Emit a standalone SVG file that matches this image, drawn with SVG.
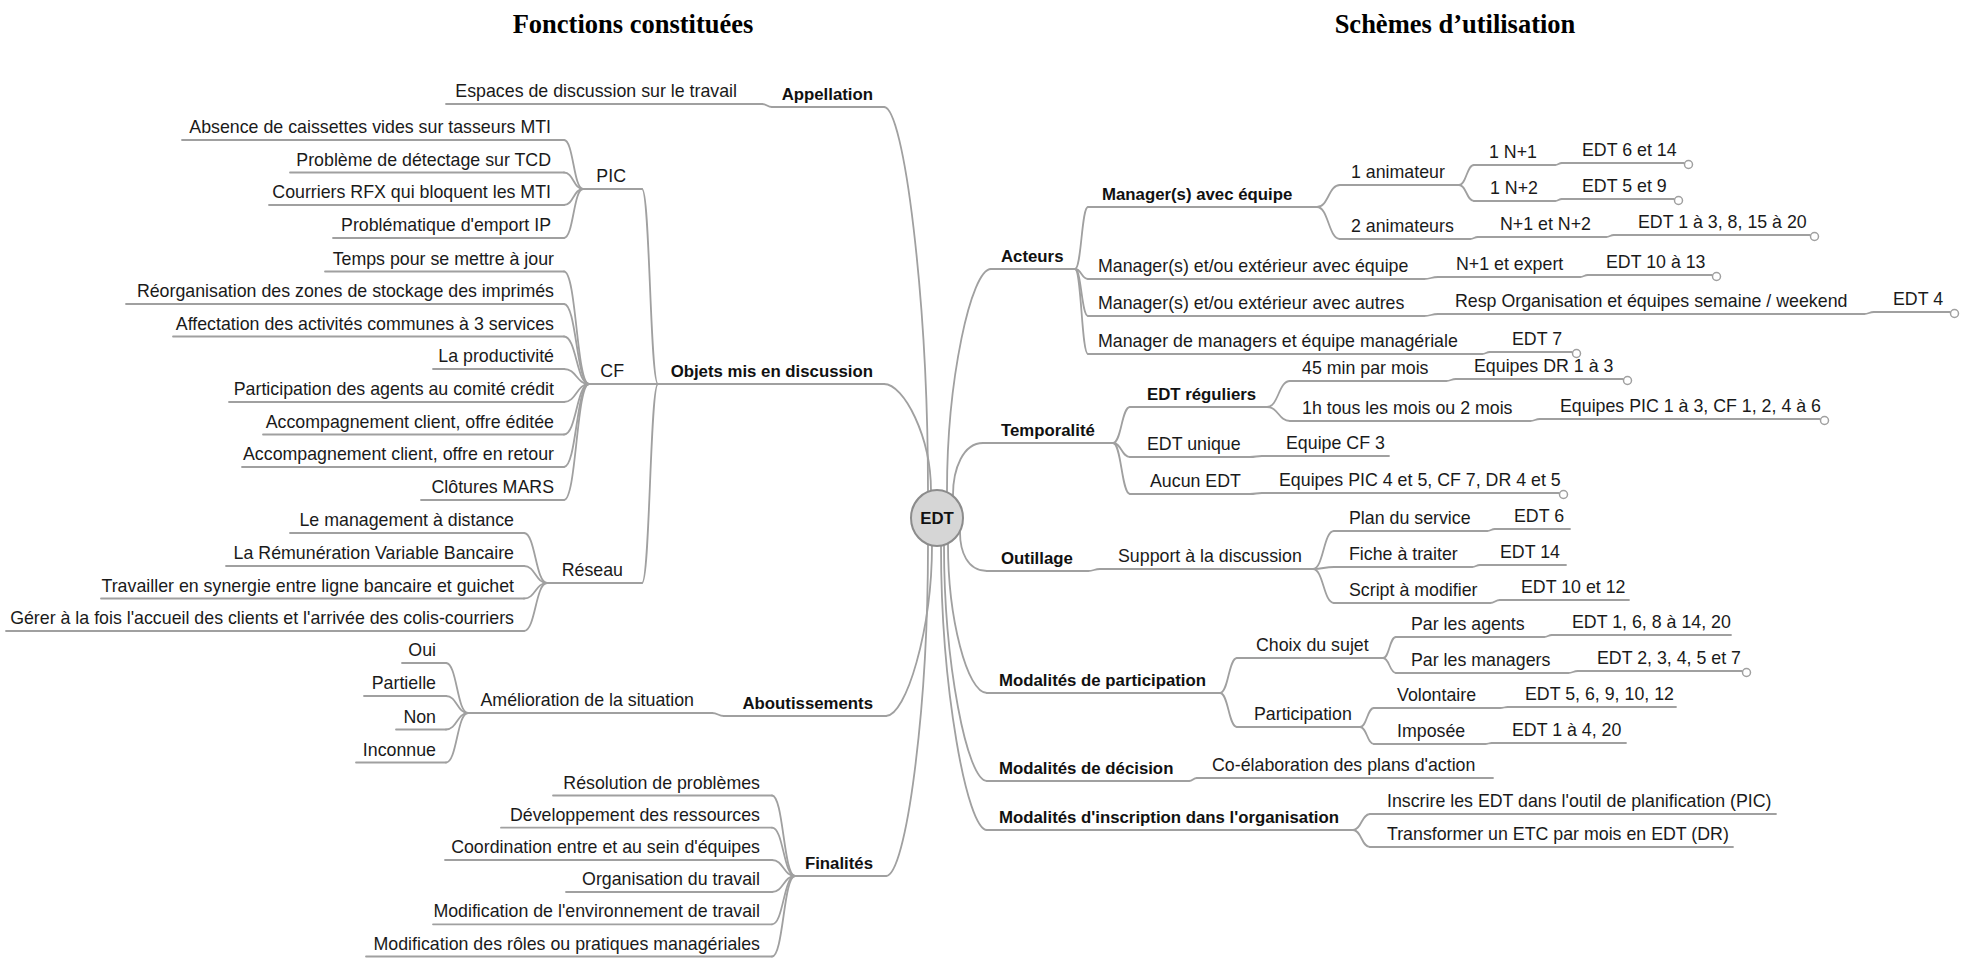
<svg xmlns="http://www.w3.org/2000/svg" width="1966" height="958" viewBox="0 0 1966 958">
<style>
.t{font-family:"Liberation Sans",Arial,sans-serif;font-size:17.8px;fill:#1a1a1a}
.b{font-family:"Liberation Sans",Arial,sans-serif;font-size:16.8px;font-weight:bold;fill:#111}
.e{text-anchor:end}
.l{stroke:#a0a0a0;stroke-width:1.8;fill:none;stroke-linecap:round}
.c{fill:#fff;stroke:#a0a0a0;stroke-width:1.5}
.title{font-family:"Liberation Serif","Times New Roman",serif;font-size:26.5px;font-weight:bold;text-anchor:middle;fill:#000}
</style>
<rect width="1966" height="958" fill="#fff"/>
<text class="title" x="633" y="33">Fonctions constituées</text>
<text class="title" x="1455" y="33">Schèmes d’utilisation</text>

<g id="connectors" class="l">
<!-- main -->
<path d="M884 107C904 107 928 300 928 492"/>
<path d="M884 384C904 384 931 437 931 491"/>
<path d="M886 716C906 716 932 630 932 545"/>
<path d="M886 876C906 876 928 710 928 545"/>
<path d="M991 269C971 269 947 380 947 491"/>
<path d="M983 443C963 443 953 469 953 495"/>
<path d="M987 571C967 571 960 551 960 532"/>
<path d="M987 693C967 693 948 618 948 544"/>
<path d="M987 781C967 781 944 663 944 545"/>
<path d="M987 830C967 830 941 688 941 546"/>
<!-- left -->
<path d="M762 104C767 104 767 107 772 107"/>
<path d="M642 189C650 189 650 384 658 384"/>
<path d="M644 384H658"/>
<path d="M642 583C650 583 650 384 658 384"/>
<path d="M564 140C573.5 140 573.5 189 583 189"/>
<path d="M564 172.5C573.5 172.5 573.5 189 583 189"/>
<path d="M564 205C573.5 205 573.5 189 583 189"/>
<path d="M564 238C573.5 238 573.5 189 583 189"/>
<path d="M564 271.5C576.5 271.5 576.5 384 589 384"/>
<path d="M564 304C576.5 304 576.5 384 589 384"/>
<path d="M564 336.5C576.5 336.5 576.5 384 589 384"/>
<path d="M564 369C576.5 369 576.5 384 589 384"/>
<path d="M564 402C576.5 402 576.5 384 589 384"/>
<path d="M564 434.5C576.5 434.5 576.5 384 589 384"/>
<path d="M564 467C576.5 467 576.5 384 589 384"/>
<path d="M564 500C576.5 500 576.5 384 589 384"/>
<path d="M524 533C535.5 533 535.5 583 547 583"/>
<path d="M524 566C535.5 566 535.5 583 547 583"/>
<path d="M524 598.5C535.5 598.5 535.5 583 547 583"/>
<path d="M524 631C535.5 631 535.5 583 547 583"/>
<path d="M712 713C718 713 718 716 724 716"/>
<path d="M446 663C457 663 457 713 468 713"/>
<path d="M446 696C457 696 457 713 468 713"/>
<path d="M446 729.5C457 729.5 457 713 468 713"/>
<path d="M446 762.5C457 762.5 457 713 468 713"/>
<path d="M772 795.5C783.5 795.5 783.5 876 795 876"/>
<path d="M772 827.7C783.5 827.7 783.5 876 795 876"/>
<path d="M772 860C783.5 860 783.5 876 795 876"/>
<path d="M772 892C783.5 892 783.5 876 795 876"/>
<path d="M772 924.3C783.5 924.3 783.5 876 795 876"/>
<path d="M772 956.5C783.5 956.5 783.5 876 795 876"/>
<!-- right: Acteurs -->
<path d="M1075 269C1081.5 269 1081.5 207 1088 207"/>
<path d="M1075 269C1081.5 269 1081.5 279 1088 279"/>
<path d="M1075 269C1081.5 269 1081.5 316 1088 316"/>
<path d="M1075 269C1081.5 269 1081.5 354 1088 354"/>
<path d="M1317 207C1328.5 207 1328.5 185 1340 185"/>
<path d="M1317 207C1328.5 207 1328.5 239 1340 239"/>
<path d="M1459 185C1466.5 185 1466.5 165 1474 165"/>
<path d="M1459 185C1466.5 185 1466.5 201 1474 201"/>
<path d="M1555 165C1558.5 165 1558.5 163 1562 163"/>
<path d="M1555 201C1558.5 201 1558.5 199 1562 199"/>
<path d="M1470 239C1474 239 1474 237 1478 237"/>
<path d="M1606 237C1610 237 1610 235 1614 235"/>
<path d="M1424 279C1431 279 1431 277 1438 277"/>
<path d="M1580 277C1584 277 1584 275 1588 275"/>
<path d="M1424 316C1431 316 1431 314 1438 314"/>
<path d="M1864 314C1869 314 1869 312 1874 312"/>
<path d="M1482 354C1486 354 1486 352 1490 352"/>
<!-- Temporalité -->
<path d="M1113 443C1121.5 443 1121.5 407 1130 407"/>
<path d="M1113 443C1121.5 443 1121.5 457 1130 457"/>
<path d="M1113 443C1121.5 443 1121.5 494 1130 494"/>
<path d="M1267 407C1278.5 407 1278.5 381 1290 381"/>
<path d="M1267 407C1278.5 407 1278.5 421 1290 421"/>
<path d="M1446 381C1451 381 1451 379 1456 379"/>
<path d="M1530 421C1535 421 1535 419 1540 419"/>
<path d="M1250 457C1256 457 1256 456 1262 456"/>
<path d="M1250 494C1256 494 1256 493 1262 493"/>
<!-- Outillage -->
<path d="M1088 571C1094 571 1094 569 1100 569"/>
<path d="M1313 569C1323.5 569 1323.5 531 1334 531"/>
<path d="M1313 569C1323.5 569 1323.5 567 1334 567"/>
<path d="M1313 569C1323.5 569 1323.5 603 1334 603"/>
<path d="M1487 531C1491 531 1491 529 1495 529"/>
<path d="M1472 567C1476 567 1476 565 1480 565"/>
<path d="M1490 603C1495 603 1495 600 1500 600"/>
<!-- Modalités de participation -->
<path d="M1220 693C1228.5 693 1228.5 658 1237 658"/>
<path d="M1220 693C1228.5 693 1228.5 727 1237 727"/>
<path d="M1383 658C1389.5 658 1389.5 637 1396 637"/>
<path d="M1383 658C1389.5 658 1389.5 673 1396 673"/>
<path d="M1544 637C1548 637 1548 635 1552 635"/>
<path d="M1568 673C1573 673 1573 671 1578 671"/>
<path d="M1360 727C1367 727 1367 708 1374 708"/>
<path d="M1360 727C1367 727 1367 744 1374 744"/>
<path d="M1500 708C1504 708 1504 707 1508 707"/>
<path d="M1485 744C1488.5 744 1488.5 743 1492 743"/>
<!-- décision / inscription -->
<path d="M1189 781C1193 781 1193 778 1197 778"/>
<path d="M1353 830C1361.5 830 1361.5 814 1370 814"/>
<path d="M1353 830C1361.5 830 1361.5 847 1370 847"/>
</g>

<g id="n-edt">
<ellipse cx="937" cy="518" rx="26" ry="28" fill="#d6d6d6" stroke="#8c8c8c" stroke-width="2"/>
<text class="b" x="937" y="524" text-anchor="middle">EDT</text>
</g>

<!-- LEFT -->
<g id="n-appellation"><text class="b e" x="873" y="100">Appellation</text><path class="l" d="M772 107H884"/></g>
<g id="n-espaces"><text class="t e" x="737" y="97">Espaces de discussion sur le travail</text><path class="l" d="M446 104H762"/></g>

<g id="n-objets"><text class="b e" x="873" y="377">Objets mis en discussion</text><path class="l" d="M658 384H884"/></g>
<g id="n-pic"><text class="t e" x="626" y="182">PIC</text><path class="l" d="M583 189H642"/></g>
<g id="n-absence"><text class="t e" x="551" y="133">Absence de caissettes vides sur tasseurs MTI</text><path class="l" d="M182 140H564"/></g>
<g id="n-probleme"><text class="t e" x="551" y="165.5">Problème de détectage sur TCD</text><path class="l" d="M290 172.5H564"/></g>
<g id="n-courriers"><text class="t e" x="551" y="198">Courriers RFX qui bloquent les MTI</text><path class="l" d="M269 205H564"/></g>
<g id="n-problematique"><text class="t e" x="551" y="231">Problématique d'emport IP</text><path class="l" d="M333 238H564"/></g>

<g id="n-cf"><text class="t e" x="624" y="377">CF</text><path class="l" d="M589 384H644"/></g>
<g id="n-temps"><text class="t e" x="554" y="264.5">Temps pour se mettre à jour</text><path class="l" d="M325 271.5H564"/></g>
<g id="n-reorg"><text class="t e" x="554" y="297">Réorganisation des zones de stockage des imprimés</text><path class="l" d="M126 304H564"/></g>
<g id="n-affect"><text class="t e" x="554" y="329.5">Affectation des activités communes à 3 services</text><path class="l" d="M173 336.5H564"/></g>
<g id="n-productivite"><text class="t e" x="554" y="362">La productivité</text><path class="l" d="M433 369H564"/></g>
<g id="n-participation-agents"><text class="t e" x="554" y="395">Participation des agents au comité crédit</text><path class="l" d="M229 402H564"/></g>
<g id="n-acc-editee"><text class="t e" x="554" y="427.5">Accompagnement client, offre éditée</text><path class="l" d="M263 434.5H564"/></g>
<g id="n-acc-retour"><text class="t e" x="554" y="460">Accompagnement client, offre en retour</text><path class="l" d="M242 467H564"/></g>
<g id="n-clotures"><text class="t e" x="554" y="493">Clôtures MARS</text><path class="l" d="M421 500H564"/></g>

<g id="n-reseau"><text class="t e" x="623" y="576">Réseau</text><path class="l" d="M547 583H642"/></g>
<g id="n-management"><text class="t e" x="514" y="526">Le management à distance</text><path class="l" d="M290 533H524"/></g>
<g id="n-remuneration"><text class="t e" x="514" y="559">La Rémunération Variable Bancaire</text><path class="l" d="M226 566H524"/></g>
<g id="n-travailler"><text class="t e" x="514" y="591.5">Travailler en synergie entre ligne bancaire et guichet</text><path class="l" d="M101 598.5H524"/></g>
<g id="n-gerer"><text class="t e" x="514" y="624">Gérer à la fois l'accueil des clients et l'arrivée des colis-courriers</text><path class="l" d="M6 631H524"/></g>

<g id="n-aboutissements"><text class="b e" x="873" y="709">Aboutissements</text><path class="l" d="M724 716H886"/></g>
<g id="n-amelioration"><text class="t e" x="694" y="706">Amélioration de la situation</text><path class="l" d="M468 713H712"/></g>
<g id="n-oui"><text class="t e" x="436" y="656">Oui</text><path class="l" d="M402 663H446"/></g>
<g id="n-partielle"><text class="t e" x="436" y="689">Partielle</text><path class="l" d="M364 696H446"/></g>
<g id="n-non"><text class="t e" x="436" y="722.5">Non</text><path class="l" d="M396 729.5H446"/></g>
<g id="n-inconnue"><text class="t e" x="436" y="755.5">Inconnue</text><path class="l" d="M356 762.5H446"/></g>

<g id="n-finalites"><text class="b e" x="873" y="869">Finalités</text><path class="l" d="M795 876H886"/></g>
<g id="n-resolution"><text class="t e" x="760" y="788.5">Résolution de problèmes</text><path class="l" d="M553 795.5H772"/></g>
<g id="n-developpement"><text class="t e" x="760" y="820.7">Développement des ressources</text><path class="l" d="M501 827.7H772"/></g>
<g id="n-coordination"><text class="t e" x="760" y="853">Coordination entre et au sein d'équipes</text><path class="l" d="M445 860H772"/></g>
<g id="n-organisation"><text class="t e" x="760" y="885">Organisation du travail</text><path class="l" d="M566 892H772"/></g>
<g id="n-modif-env"><text class="t e" x="760" y="917.3">Modification de l'environnement de travail</text><path class="l" d="M433 924.3H772"/></g>
<g id="n-modif-roles"><text class="t e" x="760" y="949.5">Modification des rôles ou pratiques managériales</text><path class="l" d="M366 956.5H772"/></g>

<!-- RIGHT -->
<g id="n-acteurs"><text class="b" x="1001" y="262">Acteurs</text><path class="l" d="M991 269H1075"/></g>
<g id="n-mgr-equipe"><text class="b" x="1102" y="200">Manager(s) avec équipe</text><path class="l" d="M1088 207H1317"/></g>
<g id="n-1anim"><text class="t" x="1351" y="178">1 animateur</text><path class="l" d="M1340 185H1459"/></g>
<g id="n-1n1"><text class="t" x="1489" y="158">1 N+1</text><path class="l" d="M1474 165H1555"/></g>
<g id="n-edt6-14"><text class="t" x="1582" y="156">EDT 6 et 14</text><path class="l" d="M1562 163H1684"/><circle class="c" cx="1688.5" cy="164.5" r="4"/></g>
<g id="n-1n2"><text class="t" x="1490" y="194">1 N+2</text><path class="l" d="M1474 201H1555"/></g>
<g id="n-edt5-9"><text class="t" x="1582" y="192">EDT 5 et 9</text><path class="l" d="M1562 199H1674"/><circle class="c" cx="1678.5" cy="200.5" r="4"/></g>
<g id="n-2anim"><text class="t" x="1351" y="232">2 animateurs</text><path class="l" d="M1340 239H1470"/></g>
<g id="n-n1n2"><text class="t" x="1500" y="230">N+1 et N+2</text><path class="l" d="M1478 237H1606"/></g>
<g id="n-edt1-20"><text class="t" x="1638" y="228">EDT 1 à 3, 8, 15 à 20</text><path class="l" d="M1614 235H1810"/><circle class="c" cx="1814.5" cy="236.5" r="4"/></g>

<g id="n-mgr-ext-equipe"><text class="t" x="1098" y="272">Manager(s) et/ou extérieur avec équipe</text><path class="l" d="M1088 279H1424"/></g>
<g id="n-n1-expert"><text class="t" x="1456" y="270">N+1 et expert</text><path class="l" d="M1438 277H1580"/></g>
<g id="n-edt10-13"><text class="t" x="1606" y="268">EDT 10 à 13</text><path class="l" d="M1588 275H1712"/><circle class="c" cx="1716.5" cy="276.5" r="4"/></g>
<g id="n-mgr-ext-autres"><text class="t" x="1098" y="309">Manager(s) et/ou extérieur avec autres</text><path class="l" d="M1088 316H1424"/></g>
<g id="n-resp"><text class="t" x="1455" y="307">Resp Organisation et équipes semaine / weekend</text><path class="l" d="M1438 314H1864"/></g>
<g id="n-edt4"><text class="t" x="1893" y="305">EDT 4</text><path class="l" d="M1874 312H1950"/><circle class="c" cx="1954.5" cy="313.5" r="4"/></g>
<g id="n-mgr-mgrs"><text class="t" x="1098" y="347">Manager de managers et équipe managériale</text><path class="l" d="M1088 354H1482"/></g>
<g id="n-edt7"><text class="t" x="1512" y="345">EDT 7</text><path class="l" d="M1490 352H1572"/><circle class="c" cx="1576.5" cy="353.5" r="4"/></g>

<g id="n-temporalite"><text class="b" x="1001" y="436">Temporalité</text><path class="l" d="M983 443H1113"/></g>
<g id="n-edt-reguliers"><text class="b" x="1147" y="400">EDT réguliers</text><path class="l" d="M1130 407H1267"/></g>
<g id="n-45min"><text class="t" x="1302" y="374">45 min par mois</text><path class="l" d="M1290 381H1446"/></g>
<g id="n-dr13"><text class="t" x="1474" y="372">Equipes DR 1 à 3</text><path class="l" d="M1456 379H1623"/><circle class="c" cx="1627.5" cy="380.5" r="4"/></g>
<g id="n-1h"><text class="t" x="1302" y="414">1h tous les mois ou 2 mois</text><path class="l" d="M1290 421H1530"/></g>
<g id="n-pic13"><text class="t" x="1560" y="412">Equipes PIC 1 à 3, CF 1, 2, 4 à 6</text><path class="l" d="M1540 419H1820"/><circle class="c" cx="1824.5" cy="420.5" r="4"/></g>
<g id="n-edt-unique"><text class="t" x="1147" y="450">EDT unique</text><path class="l" d="M1130 457H1250"/></g>
<g id="n-cf3"><text class="t" x="1286" y="449">Equipe CF 3</text><path class="l" d="M1262 456H1389"/></g>
<g id="n-aucun"><text class="t" x="1150" y="487">Aucun EDT</text><path class="l" d="M1130 494H1250"/></g>
<g id="n-pic45"><text class="t" x="1279" y="486">Equipes PIC 4 et 5, CF 7, DR 4 et 5</text><path class="l" d="M1262 493H1559"/><circle class="c" cx="1563.5" cy="494.5" r="4"/></g>

<g id="n-outillage"><text class="b" x="1001" y="564">Outillage</text><path class="l" d="M987 571H1088"/></g>
<g id="n-support"><text class="t" x="1118" y="562">Support à la discussion</text><path class="l" d="M1100 569H1313"/></g>
<g id="n-plan"><text class="t" x="1349" y="524">Plan du service</text><path class="l" d="M1334 531H1487"/></g>
<g id="n-edt6"><text class="t" x="1514" y="522">EDT 6</text><path class="l" d="M1495 529H1570"/></g>
<g id="n-fiche"><text class="t" x="1349" y="560">Fiche à traiter</text><path class="l" d="M1334 567H1472"/></g>
<g id="n-edt14"><text class="t" x="1500" y="558">EDT 14</text><path class="l" d="M1480 565H1566"/></g>
<g id="n-script"><text class="t" x="1349" y="596">Script à modifier</text><path class="l" d="M1334 603H1490"/></g>
<g id="n-edt10-12"><text class="t" x="1521" y="593">EDT 10 et 12</text><path class="l" d="M1500 600H1629"/></g>

<g id="n-mod-part"><text class="b" x="999" y="686">Modalités de participation</text><path class="l" d="M987 693H1220"/></g>
<g id="n-choix"><text class="t" x="1256" y="651">Choix du sujet</text><path class="l" d="M1237 658H1383"/></g>
<g id="n-agents"><text class="t" x="1411" y="630">Par les agents</text><path class="l" d="M1396 637H1544"/></g>
<g id="n-edt-agents"><text class="t" x="1572" y="628">EDT 1, 6, 8 à 14, 20</text><path class="l" d="M1552 635H1731"/></g>
<g id="n-managers"><text class="t" x="1411" y="666">Par les managers</text><path class="l" d="M1396 673H1568"/></g>
<g id="n-edt-managers"><text class="t" x="1597" y="664">EDT 2, 3, 4, 5 et 7</text><path class="l" d="M1578 671H1742"/><circle class="c" cx="1746.5" cy="672.5" r="4"/></g>
<g id="n-participation"><text class="t" x="1254" y="720">Participation</text><path class="l" d="M1237 727H1360"/></g>
<g id="n-volontaire"><text class="t" x="1397" y="701">Volontaire</text><path class="l" d="M1374 708H1500"/></g>
<g id="n-edt-vol"><text class="t" x="1525" y="700">EDT 5, 6, 9, 10, 12</text><path class="l" d="M1508 707H1676"/></g>
<g id="n-imposee"><text class="t" x="1397" y="737">Imposée</text><path class="l" d="M1374 744H1485"/></g>
<g id="n-edt-imp"><text class="t" x="1512" y="736">EDT 1 à 4, 20</text><path class="l" d="M1492 743H1626"/></g>

<g id="n-mod-dec"><text class="b" x="999" y="774">Modalités de décision</text><path class="l" d="M987 781H1189"/></g>
<g id="n-coelab"><text class="t" x="1212" y="771">Co-élaboration des plans d'action</text><path class="l" d="M1197 778H1493"/></g>

<g id="n-mod-insc"><text class="b" x="999" y="823">Modalités d'inscription dans l'organisation</text><path class="l" d="M987 830H1353"/></g>
<g id="n-inscrire"><text class="t" x="1387" y="807">Inscrire les EDT dans l'outil de planification (PIC)</text><path class="l" d="M1370 814H1776"/></g>
<g id="n-transformer"><text class="t" x="1387" y="840">Transformer un ETC par mois en EDT (DR)</text><path class="l" d="M1370 847H1733"/></g>
</svg>
